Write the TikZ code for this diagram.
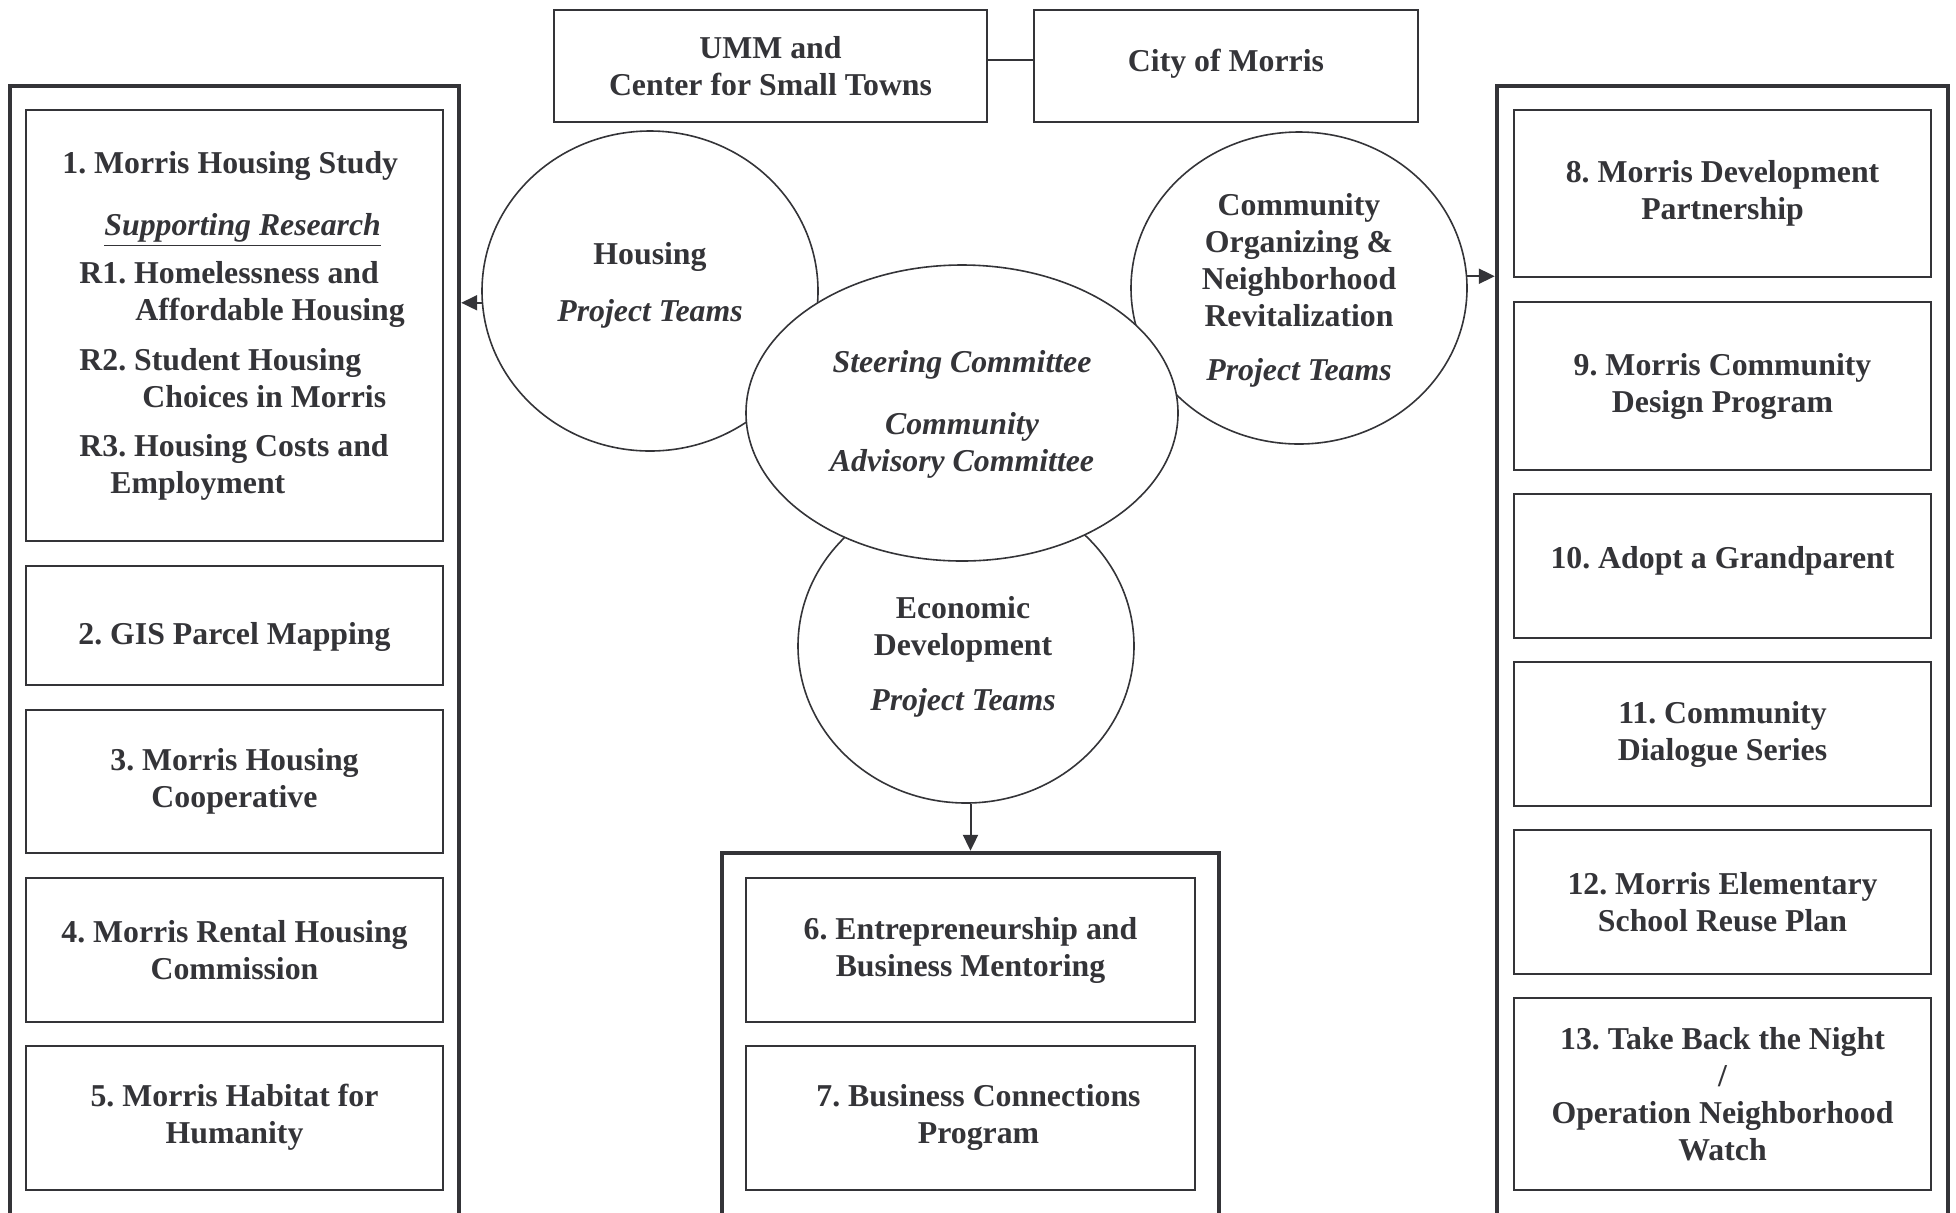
\documentclass[tikz,border=0pt]{standalone}
\usepackage{fontspec}
\setmainfont{Liberation Serif}
\usetikzlibrary{arrows.meta,positioning,shapes.geometric}
\definecolor{ink}{RGB}{52,52,56}
\newcommand\itemsize{\fontsize{15.9pt}{18.5pt}\selectfont}
\tikzset{
  outerbox/.style={draw=ink,line width=2.2pt,inner sep=0pt},
  item/.style={draw=ink,line width=1pt,inner sep=0pt,align=center,text=ink,
    font=\bfseries\itemsize,minimum width=208.5pt,minimum height=72pt},
  team/.style={ellipse,draw=ink,fill=white,line width=.8pt,inner sep=0pt},
  teamtxt/.style={align=center,inner sep=0pt,text=ink,font=\bfseries\itemsize},
  arr/.style={draw=ink,line width=1pt,-{Triangle[length=8pt,width=7.5pt]}},
}
\begin{document}
\frenchspacing
\begin{tikzpicture}[x=.5pt,y=-.5pt]
    \useasboundingbox (0,0) rectangle (1956,1212);
    % partners
    \node[item,minimum width=216.5pt,minimum height=56pt] (umm) at (770.5,66) {UMM and\\Center for Small Towns};
    \node[item,minimum width=192pt,minimum height=56pt,text depth=6pt] (city) at (1226,66) {City of Morris};
    \draw[ink,line width=1pt] ([yshift=3pt]umm.east) -- ([yshift=3pt]city.west);
    % housing column
    \node[outerbox,minimum width=224.5pt,minimum height=577pt] (leftcol) at (234.5,663) {};
    \node[item,minimum height=215.5pt] (study) at (234.5,325.5) {};
    \node[anchor=north west,align=left,inner sep=0pt,text=ink,font=\bfseries\itemsize] (studytxt) at (62,151)
      {1. Morris Housing Study\\[12.5pt]
       \hspace*{21pt}\textit{\underline{Supporting Research}}\\[5.5pt]
       \hspace*{8.5pt}R1. Homelessness and\\
       \hspace*{36.5pt}Affordable Housing\\[6.5pt]
       \hspace*{8.5pt}R2. Student Housing\\
       \hspace*{40pt}Choices in Morris\\[6pt]
       \hspace*{8.5pt}R3. Housing Costs and\\
       \hspace*{24pt}Employment};
    \node[item,minimum height=59.5pt,text height=22pt,text depth=3.4pt] (gis) at (234.5,625.5) {2. GIS Parcel Mapping};
    \node[item,minimum height=71.5pt] (coop) at (234.5,781.5) {3. Morris Housing\\Cooperative};
    \node[item] (rental) at (234.5,950) {4. Morris Rental Housing\\Commission};
    \node[item] (habitat) at (234.5,1117.5) {5. Morris Habitat for\\Humanity};
    % community column
    \node[outerbox,minimum width=225.5pt,minimum height=577pt] (rightcol) at (1722.5,663) {};
    \node[item,minimum height=83.5pt] (mdp) at (1722.5,193.5) {8. Morris Development\\Partnership};
    \node[item,minimum height=84pt] (design) at (1722.5,386) {9. Morris Community\\Design Program};
    \node[item,text height=11pt,text depth=8pt] (grand) at (1722.5,565.5) {10. Adopt a Grandparent};
    \node[item] (dialogue) at (1722.5,734) {11. Community\\Dialogue Series};
    \node[item] (school) at (1722.5,902) {12. Morris Elementary\\School Reuse Plan};
    \node[item,minimum height=96pt] (night) at (1722.5,1094) {13. Take Back the Night\\/\\Operation Neighborhood\\Watch};
    % business column
    \node[outerbox,minimum width=248.5pt,minimum height=193.5pt] (midcol) at (970.5,1046.5) {};
    \node[item,minimum width=224.5pt] (mentor) at (970.5,950) {6. Entrepreneurship and\\Business Mentoring};
    \node[item,minimum width=224.5pt] (connect) at (970.5,1117.5) {\hspace*{8pt}7. Business Connections\\\hspace*{8pt}Program};
    % project teams
    \node[team,minimum width=168pt,minimum height=160pt] (housing) at (650,291) {};
    \node[team,minimum width=168pt,minimum height=156pt] (community) at (1299,288) {};
    \node[team,minimum width=168pt,minimum height=157pt] (econ) at (966,646) {};
    \node[team,minimum width=216pt,minimum height=148pt] (steering) at (962,413) {};
    \node[teamtxt] (housingtxt) at (650,285) {Housing\\[10pt]\textit{Project Teams}};
    \node[teamtxt] (communitytxt) at (1299,290)
      {Community\\Organizing \&\\Neighborhood\\Revitalization\\[8.5pt]\textit{Project Teams}};
    \node[teamtxt] (econtxt) at (963,657) {Economic\\Development\\[9pt]\textit{Project Teams}};
    \node[teamtxt,font=\bfseries\itshape\itemsize] (steeringtxt) at (962,414)
      {Steering Committee\\[12.5pt]Community\\Advisory Committee};
    % arrows
    \draw[arr] (housing.184) -- (housing.184 -| leftcol.east);
    \draw[arr] (community.4) -- (community.4 -| rightcol.west);
    \draw[arr] (econ.south -| midcol.north) -- (midcol.north);
\end{tikzpicture}
\end{document}
